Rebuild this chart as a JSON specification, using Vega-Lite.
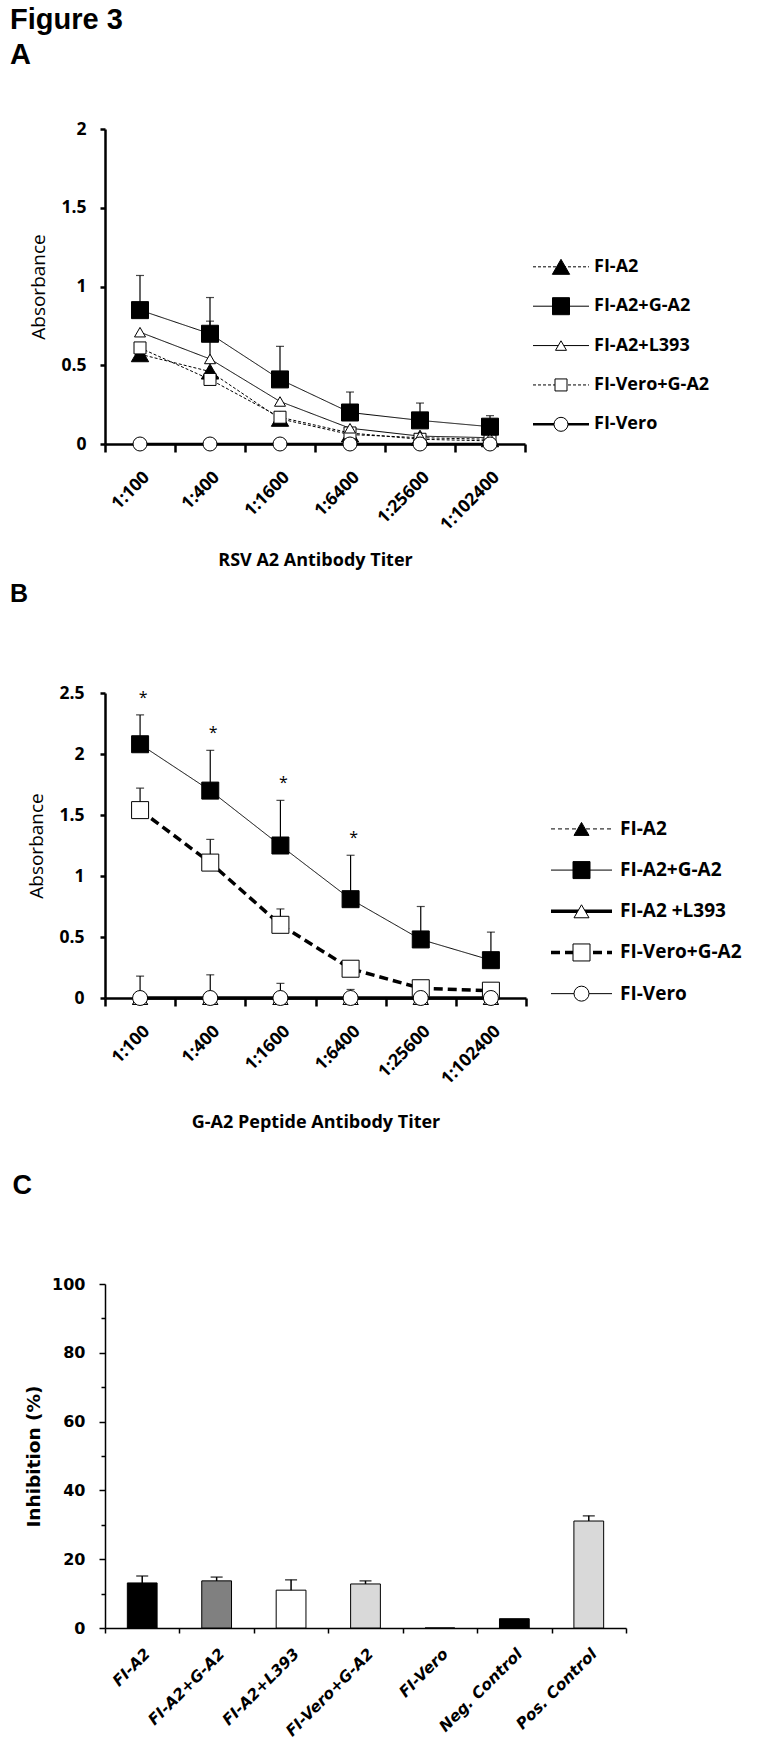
{
  "$schema": "https://vega.github.io/schema/vega-lite/v6.json",
  "background": "white",
  "padding": {"left": 9, "top": 6, "right": 5, "bottom": 5},
  "title": {
    "text": ["Figure 3", "A"],
    "anchor": "start",
    "font": "Liberation Sans",
    "fontSize": 29,
    "fontWeight": "bold",
    "lineHeight": 35,
    "color": "black",
    "offset": 50
  },
  "config": {
    "view": {"stroke": null},
    "axis": {"grid": false, "domainColor": "black", "tickColor": "black", "labelColor": "black", "titleColor": "black"}
  },
  "datasets": {
    "a": [
      {"titer": "1:100", "series": "FI-A2", "value": 0.57},
      {"titer": "1:400", "series": "FI-A2", "value": 0.46},
      {"titer": "1:1600", "series": "FI-A2", "value": 0.16},
      {"titer": "1:6400", "series": "FI-A2", "value": 0.06},
      {"titer": "1:25600", "series": "FI-A2", "value": 0.04},
      {"titer": "1:102400", "series": "FI-A2", "value": 0.03},
      {"titer": "1:100", "series": "FI-Vero+G-A2", "value": 0.61},
      {"titer": "1:400", "series": "FI-Vero+G-A2", "value": 0.41},
      {"titer": "1:1600", "series": "FI-Vero+G-A2", "value": 0.17},
      {"titer": "1:6400", "series": "FI-Vero+G-A2", "value": 0.07},
      {"titer": "1:25600", "series": "FI-Vero+G-A2", "value": 0.03},
      {"titer": "1:102400", "series": "FI-Vero+G-A2", "value": 0.02},
      {"titer": "1:100", "series": "FI-A2+L393", "value": 0.71},
      {"titer": "1:400", "series": "FI-A2+L393", "value": 0.54, "hi": 0.78},
      {"titer": "1:1600", "series": "FI-A2+L393", "value": 0.27},
      {"titer": "1:6400", "series": "FI-A2+L393", "value": 0.10},
      {"titer": "1:25600", "series": "FI-A2+L393", "value": 0.05},
      {"titer": "1:102400", "series": "FI-A2+L393", "value": 0.04},
      {"titer": "1:100", "series": "FI-A2+G-A2", "value": 0.85, "hi": 1.07},
      {"titer": "1:400", "series": "FI-A2+G-A2", "value": 0.70, "hi": 0.93},
      {"titer": "1:1600", "series": "FI-A2+G-A2", "value": 0.41, "hi": 0.62},
      {"titer": "1:6400", "series": "FI-A2+G-A2", "value": 0.20, "hi": 0.33},
      {"titer": "1:25600", "series": "FI-A2+G-A2", "value": 0.15, "hi": 0.26},
      {"titer": "1:102400", "series": "FI-A2+G-A2", "value": 0.11, "hi": 0.18},
      {"titer": "1:100", "series": "FI-Vero", "value": 0},
      {"titer": "1:400", "series": "FI-Vero", "value": 0},
      {"titer": "1:1600", "series": "FI-Vero", "value": 0},
      {"titer": "1:6400", "series": "FI-Vero", "value": 0},
      {"titer": "1:25600", "series": "FI-Vero", "value": 0},
      {"titer": "1:102400", "series": "FI-Vero", "value": 0}
    ],
    "b": [
      {"titer": "1:100", "series": "FI-A2", "value": 0, "hi": 0.18},
      {"titer": "1:400", "series": "FI-A2", "value": 0, "hi": 0.19},
      {"titer": "1:1600", "series": "FI-A2", "value": 0, "hi": 0.12},
      {"titer": "1:6400", "series": "FI-A2", "value": 0, "hi": 0.07},
      {"titer": "1:25600", "series": "FI-A2", "value": 0},
      {"titer": "1:102400", "series": "FI-A2", "value": 0},
      {"titer": "1:100", "series": "FI-A2+G-A2", "value": 2.08, "hi": 2.32, "sig": "*"},
      {"titer": "1:400", "series": "FI-A2+G-A2", "value": 1.70, "hi": 2.03, "sig": "*"},
      {"titer": "1:1600", "series": "FI-A2+G-A2", "value": 1.25, "hi": 1.62, "sig": "*"},
      {"titer": "1:6400", "series": "FI-A2+G-A2", "value": 0.81, "hi": 1.17, "sig": "*"},
      {"titer": "1:25600", "series": "FI-A2+G-A2", "value": 0.48, "hi": 0.75},
      {"titer": "1:102400", "series": "FI-A2+G-A2", "value": 0.31, "hi": 0.54},
      {"titer": "1:100", "series": "FI-A2 +L393", "value": 0},
      {"titer": "1:400", "series": "FI-A2 +L393", "value": 0},
      {"titer": "1:1600", "series": "FI-A2 +L393", "value": 0},
      {"titer": "1:6400", "series": "FI-A2 +L393", "value": 0},
      {"titer": "1:25600", "series": "FI-A2 +L393", "value": 0},
      {"titer": "1:102400", "series": "FI-A2 +L393", "value": 0},
      {"titer": "1:100", "series": "FI-Vero+G-A2", "value": 1.54, "hi": 1.72},
      {"titer": "1:400", "series": "FI-Vero+G-A2", "value": 1.11, "hi": 1.30},
      {"titer": "1:1600", "series": "FI-Vero+G-A2", "value": 0.60, "hi": 0.73},
      {"titer": "1:6400", "series": "FI-Vero+G-A2", "value": 0.24},
      {"titer": "1:25600", "series": "FI-Vero+G-A2", "value": 0.08},
      {"titer": "1:102400", "series": "FI-Vero+G-A2", "value": 0.06},
      {"titer": "1:100", "series": "FI-Vero", "value": 0},
      {"titer": "1:400", "series": "FI-Vero", "value": 0},
      {"titer": "1:1600", "series": "FI-Vero", "value": 0},
      {"titer": "1:6400", "series": "FI-Vero", "value": 0},
      {"titer": "1:25600", "series": "FI-Vero", "value": 0},
      {"titer": "1:102400", "series": "FI-Vero", "value": 0}
    ],
    "c": [
      {"group": "FI-A2", "value": 13.1, "hi": 15.1},
      {"group": "FI-A2+G-A2", "value": 13.7, "hi": 14.8},
      {"group": "FI-A2+L393", "value": 11.0, "hi": 14.0},
      {"group": "FI-Vero+G-A2", "value": 12.8, "hi": 13.7},
      {"group": "FI-Vero", "value": 0},
      {"group": "Neg. Control", "value": 2.7},
      {"group": "Pos. Control", "value": 31.1, "hi": 32.6}
    ],
    "legA": [
      {"series": "FI-A2"}, {"series": "FI-A2+G-A2"}, {"series": "FI-A2+L393"}, {"series": "FI-Vero+G-A2"}, {"series": "FI-Vero"}
    ],
    "legB": [
      {"series": "FI-A2"}, {"series": "FI-A2+G-A2"}, {"series": "FI-A2 +L393"}, {"series": "FI-Vero+G-A2"}, {"series": "FI-Vero"}
    ]
  },
  "spacing": 40,
  "resolve": {"scale": {"x": "independent", "y": "independent", "fill": "independent", "shape": "independent", "size": "independent", "strokeDash": "independent", "strokeWidth": "independent"}},
  "vconcat": [
    {
      "spacing": 12,
      "resolve": {"scale": {"x": "independent", "y": "independent", "fill": "independent", "shape": "independent", "size": "independent", "strokeDash": "independent", "strokeWidth": "independent"}},
      "vconcat": [
        {
          "spacing": 4,
          "resolve": {"scale": {"x": "independent", "y": "independent"}},
          "hconcat": [
            {
              "width": 420,
              "height": 315,
              "data": {"name": "a"},
              "encoding": {
                "x": {
                  "field": "titer", "type": "ordinal",
                  "sort": ["1:100", "1:400", "1:1600", "1:6400", "1:25600", "1:102400"],
                  "scale": {"type": "band", "paddingInner": 0, "paddingOuter": 0},
                  "axis": {
                    "title": "RSV A2 Antibody Titer", "labelAngle": -45, "tickBand": "extent",
                    "domainWidth": 2.5, "tickWidth": 2.5, "tickSize": 8,
                    "labelFont": "Open Sans", "labelFontWeight": "bold", "labelFontSize": 17.5, "labelPadding": 16,
                    "titleFont": "Open Sans", "titleFontWeight": "bold", "titleFontSize": 18, "titlePadding": 18
                  }
                },
                "y": {
                  "field": "value", "type": "quantitative", "title": "Absorbance",
                  "scale": {"domain": [0, 2]},
                  "axis": {
                    "values": [0, 0.5, 1, 1.5, 2], "format": "~g",
                    "domainWidth": 2.5, "tickWidth": 2.5, "tickSize": 5,
                    "labelFont": "Open Sans", "labelFontWeight": "bold", "labelFontSize": 17.5, "labelPadding": 14,
                    "titleFont": "Open Sans", "titleFontWeight": "normal", "titleFontSize": 19, "titlePadding": 12
                  }
                }
              },
              "layer": [
                {
                  "transform": [{"filter": "isValid(datum.hi)"}],
                  "mark": {"type": "rule", "color": "black", "strokeWidth": 1.2},
                  "encoding": {"y2": {"field": "hi"}}
                },
                {
                  "transform": [{"filter": "isValid(datum.hi)"}],
                  "mark": {"type": "tick", "color": "black", "size": 8, "thickness": 1.2, "orient": "horizontal"},
                  "encoding": {"y": {"field": "hi", "type": "quantitative", "title": "Absorbance"}}
                },
                {
                  "mark": {"type": "line", "color": "black"},
                  "encoding": {
                    "detail": {"field": "series"},
                    "strokeDash": {"field": "series", "type": "nominal", "scale": {"domain": ["FI-A2", "FI-A2+G-A2", "FI-A2+L393", "FI-Vero+G-A2", "FI-Vero"], "range": [[3, 2], [1, 0], [1, 0], [3, 2], [1, 0]]}, "legend": null},
                    "strokeWidth": {"field": "series", "type": "nominal", "scale": {"type": "ordinal", "domain": ["FI-A2", "FI-A2+G-A2", "FI-A2+L393", "FI-Vero+G-A2", "FI-Vero"], "range": [1, 1, 1, 1, 2.5]}, "legend": null}
                  }
                },
                {
                  "mark": {"type": "point", "filled": true, "stroke": "black", "strokeWidth": 1, "opacity": 1},
                  "encoding": {
                    "shape": {"field": "series", "type": "nominal", "scale": {"domain": ["FI-A2", "FI-A2+G-A2", "FI-A2+L393", "FI-Vero+G-A2", "FI-Vero"], "range": ["triangle-up", "square", "triangle-up", "square", "circle"]}, "legend": null},
                    "fill": {"field": "series", "type": "nominal", "scale": {"domain": ["FI-A2", "FI-A2+G-A2", "FI-A2+L393", "FI-Vero+G-A2", "FI-Vero"], "range": ["black", "black", "white", "white", "white"]}, "legend": null},
                    "size": {"field": "series", "type": "nominal", "scale": {"type": "ordinal", "domain": ["FI-A2", "FI-A2+G-A2", "FI-A2+L393", "FI-Vero+G-A2", "FI-Vero"], "range": [300, 289, 121, 144, 196]}, "legend": null}
                  }
                }
              ]
            },
            {
              "width": 56,
              "height": 315,
              "data": {"name": "legA"},
              "encoding": {
                "y": {"field": "series", "type": "nominal", "scale": {"type": "point", "domain": [" ", "  ", "   ", "FI-A2", "FI-A2+G-A2", "FI-A2+L393", "FI-Vero+G-A2", "FI-Vero"], "padding": 0.5}, "axis": null}
              },
              "layer": [
                {
                  "mark": {"type": "rule", "color": "black"},
                  "encoding": {
                    "x": {"datum": -1, "type": "quantitative", "scale": {"domain": [-1, 1]}, "axis": null},
                    "x2": {"datum": 1},
                    "strokeDash": {"field": "series", "type": "nominal", "scale": {"domain": ["FI-A2", "FI-A2+G-A2", "FI-A2+L393", "FI-Vero+G-A2", "FI-Vero"], "range": [[3, 2], [1, 0], [1, 0], [3, 2], [1, 0]]}, "legend": null},
                    "strokeWidth": {"field": "series", "type": "nominal", "scale": {"type": "ordinal", "domain": ["FI-A2", "FI-A2+G-A2", "FI-A2+L393", "FI-Vero+G-A2", "FI-Vero"], "range": [1, 1, 1, 1, 2.5]}, "legend": null}
                  }
                },
                {
                  "mark": {"type": "point", "filled": true, "stroke": "black", "strokeWidth": 1, "opacity": 1},
                  "encoding": {
                    "x": {"datum": 0, "type": "quantitative", "axis": null},
                    "shape": {"field": "series", "type": "nominal", "scale": {"domain": ["FI-A2", "FI-A2+G-A2", "FI-A2+L393", "FI-Vero+G-A2", "FI-Vero"], "range": ["triangle-up", "square", "triangle-up", "square", "circle"]}, "legend": null},
                    "fill": {"field": "series", "type": "nominal", "scale": {"domain": ["FI-A2", "FI-A2+G-A2", "FI-A2+L393", "FI-Vero+G-A2", "FI-Vero"], "range": ["black", "black", "white", "white", "white"]}, "legend": null},
                    "size": {"field": "series", "type": "nominal", "scale": {"type": "ordinal", "domain": ["FI-A2", "FI-A2+G-A2", "FI-A2+L393", "FI-Vero+G-A2", "FI-Vero"], "range": [225, 225, 144, 144, 169]}, "legend": null}
                  }
                },
                {
                  "mark": {"type": "text", "align": "left", "baseline": "middle", "dx": 5, "font": "Open Sans", "fontSize": 18, "fontWeight": "bold", "color": "black"},
                  "encoding": {
                    "x": {"datum": 1, "type": "quantitative", "axis": null},
                    "text": {"field": "series"}
                  }
                }
              ]
            }
          ]
        },
        {
          "title": {"text": "B", "anchor": "start", "font": "Liberation Sans", "fontSize": 25, "fontWeight": "bold", "color": "black", "offset": 77, "dx": -18},
          "spacing": 21,
          "resolve": {"scale": {"x": "independent", "y": "independent"}},
          "hconcat": [
            {
              "width": 421,
              "height": 305,
              "data": {"name": "b"},
              "encoding": {
                "x": {
                  "field": "titer", "type": "ordinal",
                  "sort": ["1:100", "1:400", "1:1600", "1:6400", "1:25600", "1:102400"],
                  "scale": {"type": "band", "paddingInner": 0, "paddingOuter": 0},
                  "axis": {
                    "title": "G-A2 Peptide Antibody Titer", "labelAngle": -45, "tickBand": "extent",
                    "domainWidth": 2.5, "tickWidth": 2.5, "tickSize": 8,
                    "labelFont": "Open Sans", "labelFontWeight": "bold", "labelFontSize": 17.5, "labelPadding": 16,
                    "titleFont": "Open Sans", "titleFontWeight": "bold", "titleFontSize": 18, "titlePadding": 26
                  }
                },
                "y": {
                  "field": "value", "type": "quantitative", "title": "Absorbance",
                  "scale": {"domain": [0, 2.5]},
                  "axis": {
                    "values": [0, 0.5, 1, 1.5, 2, 2.5], "format": "~g",
                    "domainWidth": 2.5, "tickWidth": 2.5, "tickSize": 5,
                    "labelFont": "Open Sans", "labelFontWeight": "bold", "labelFontSize": 17.5, "labelPadding": 16,
                    "titleFont": "Open Sans", "titleFontWeight": "normal", "titleFontSize": 19, "titlePadding": 12
                  }
                }
              },
              "layer": [
                {
                  "transform": [{"filter": "isValid(datum.hi)"}],
                  "mark": {"type": "rule", "color": "black", "strokeWidth": 1.2},
                  "encoding": {"y2": {"field": "hi"}}
                },
                {
                  "transform": [{"filter": "isValid(datum.hi)"}],
                  "mark": {"type": "tick", "color": "black", "size": 8, "thickness": 1.2, "orient": "horizontal"},
                  "encoding": {"y": {"field": "hi", "type": "quantitative", "title": "Absorbance"}}
                },
                {
                  "transform": [{"filter": "isValid(datum.sig)"}],
                  "mark": {"type": "text", "font": "Open Sans", "fontSize": 16, "dy": -17, "dx": 3, "color": "black"},
                  "encoding": {"y": {"field": "hi", "type": "quantitative", "title": "Absorbance"}, "text": {"field": "sig"}}
                },
                {
                  "mark": {"type": "line", "color": "black"},
                  "encoding": {
                    "detail": {"field": "series"},
                    "strokeDash": {"field": "series", "type": "nominal", "scale": {"domain": ["FI-A2", "FI-A2+G-A2", "FI-A2 +L393", "FI-Vero+G-A2", "FI-Vero"], "range": [[4, 3], [1, 0], [1, 0], [9, 5], [1, 0]]}, "legend": null},
                    "strokeWidth": {"field": "series", "type": "nominal", "scale": {"type": "ordinal", "domain": ["FI-A2", "FI-A2+G-A2", "FI-A2 +L393", "FI-Vero+G-A2", "FI-Vero"], "range": [1, 1, 3.5, 3.5, 1]}, "legend": null}
                  }
                },
                {
                  "mark": {"type": "point", "filled": true, "stroke": "black", "strokeWidth": 1, "opacity": 1},
                  "encoding": {
                    "shape": {"field": "series", "type": "nominal", "scale": {"domain": ["FI-A2", "FI-A2+G-A2", "FI-A2 +L393", "FI-Vero+G-A2", "FI-Vero"], "range": ["triangle-up", "square", "triangle-up", "square", "circle"]}, "legend": null},
                    "fill": {"field": "series", "type": "nominal", "scale": {"domain": ["FI-A2", "FI-A2+G-A2", "FI-A2 +L393", "FI-Vero+G-A2", "FI-Vero"], "range": ["black", "black", "white", "white", "white"]}, "legend": null},
                    "size": {"field": "series", "type": "nominal", "scale": {"type": "ordinal", "domain": ["FI-A2", "FI-A2+G-A2", "FI-A2 +L393", "FI-Vero+G-A2", "FI-Vero"], "range": [225, 289, 225, 289, 225]}, "legend": null}
                  }
                }
              ]
            },
            {
              "width": 61,
              "height": 313,
              "data": {"name": "legB"},
              "encoding": {
                "y": {"field": "series", "type": "nominal", "scale": {"type": "point", "domain": [" ", "  ", "   ", "FI-A2", "FI-A2+G-A2", "FI-A2 +L393", "FI-Vero+G-A2", "FI-Vero"], "padding": 0.3}, "axis": null}
              },
              "layer": [
                {
                  "mark": {"type": "rule", "color": "black"},
                  "encoding": {
                    "x": {"datum": -1, "type": "quantitative", "scale": {"domain": [-1, 1]}, "axis": null},
                    "x2": {"datum": 1},
                    "strokeDash": {"field": "series", "type": "nominal", "scale": {"domain": ["FI-A2", "FI-A2+G-A2", "FI-A2 +L393", "FI-Vero+G-A2", "FI-Vero"], "range": [[4, 3], [1, 0], [1, 0], [9, 5], [1, 0]]}, "legend": null},
                    "strokeWidth": {"field": "series", "type": "nominal", "scale": {"type": "ordinal", "domain": ["FI-A2", "FI-A2+G-A2", "FI-A2 +L393", "FI-Vero+G-A2", "FI-Vero"], "range": [1, 1, 3.5, 3.5, 1]}, "legend": null}
                  }
                },
                {
                  "mark": {"type": "point", "filled": true, "stroke": "black", "strokeWidth": 1, "opacity": 1},
                  "encoding": {
                    "x": {"datum": 0, "type": "quantitative", "axis": null},
                    "shape": {"field": "series", "type": "nominal", "scale": {"domain": ["FI-A2", "FI-A2+G-A2", "FI-A2 +L393", "FI-Vero+G-A2", "FI-Vero"], "range": ["triangle-up", "square", "triangle-up", "square", "circle"]}, "legend": null},
                    "fill": {"field": "series", "type": "nominal", "scale": {"domain": ["FI-A2", "FI-A2+G-A2", "FI-A2 +L393", "FI-Vero+G-A2", "FI-Vero"], "range": ["black", "black", "white", "white", "white"]}, "legend": null},
                    "size": {"field": "series", "type": "nominal", "scale": {"type": "ordinal", "domain": ["FI-A2", "FI-A2+G-A2", "FI-A2 +L393", "FI-Vero+G-A2", "FI-Vero"], "range": [169, 256, 169, 225, 169]}, "legend": null}
                  }
                },
                {
                  "mark": {"type": "text", "align": "left", "baseline": "middle", "dx": 8, "font": "Open Sans", "fontSize": 19, "fontWeight": "bold", "color": "black"},
                  "encoding": {
                    "x": {"datum": 1, "type": "quantitative", "axis": null},
                    "text": {"field": "series"}
                  }
                }
              ]
            }
          ]
        }
      ]
    },
    {
      "title": {"text": "C", "anchor": "start", "font": "Liberation Sans", "fontSize": 27, "fontWeight": "bold", "color": "black", "offset": 76, "dx": -12},
      "width": 521,
      "height": 344,
      "data": {"name": "c"},
      "encoding": {
        "x": {
          "field": "group", "type": "nominal",
          "sort": ["FI-A2", "FI-A2+G-A2", "FI-A2+L393", "FI-Vero+G-A2", "FI-Vero", "Neg. Control", "Pos. Control"],
          "scale": {"type": "band", "paddingInner": 0, "paddingOuter": 0},
          "axis": {
            "title": null, "labelAngle": -45, "tickBand": "extent",
            "domainWidth": 1.5, "tickWidth": 1.5, "tickSize": 5,
            "labelFont": "DejaVu Sans", "labelFontWeight": "bold", "labelFontStyle": "italic", "labelFontSize": 15.5, "labelPadding": 13
          }
        },
        "y": {
          "field": "value", "type": "quantitative", "title": "Inhibition (%)",
          "scale": {"domain": [0, 100]},
          "axis": {
            "values": [0, 10, 20, 30, 40, 50, 60, 70, 80, 90, 100],
            "labelExpr": "datum.value % 20 === 0 ? datum.label : ''",
            "domainWidth": 1.5, "tickWidth": 1.5,
            "tickSize": {"condition": {"test": "datum.value % 20 === 0", "value": 6}, "value": 4},
            "labelFont": "DejaVu Sans", "labelFontWeight": "bold", "labelFontSize": 16, "labelPadding": 14,
            "titleFont": "DejaVu Sans", "titleFontWeight": "bold", "titleFontSize": 18.5, "titlePadding": 8
          }
        }
      },
      "layer": [
        {
          "mark": {"type": "bar", "width": {"band": 0.4}, "stroke": "black", "strokeWidth": 1},
          "encoding": {
            "fill": {"field": "group", "type": "nominal", "scale": {"domain": ["FI-A2", "FI-A2+G-A2", "FI-A2+L393", "FI-Vero+G-A2", "FI-Vero", "Neg. Control", "Pos. Control"], "range": ["black", "#808080", "white", "#d9d9d9", "white", "black", "#d9d9d9"]}, "legend": null}
          }
        },
        {
          "transform": [{"filter": "isValid(datum.hi)"}],
          "mark": {"type": "rule", "color": "black", "strokeWidth": 1.5},
          "encoding": {"y2": {"field": "hi"}}
        },
        {
          "transform": [{"filter": "isValid(datum.hi)"}],
          "mark": {"type": "tick", "color": "black", "size": 12, "thickness": 1.5, "orient": "horizontal"},
          "encoding": {"y": {"field": "hi", "type": "quantitative", "title": "Inhibition (%)"}}
        }
      ]
    }
  ]
}
